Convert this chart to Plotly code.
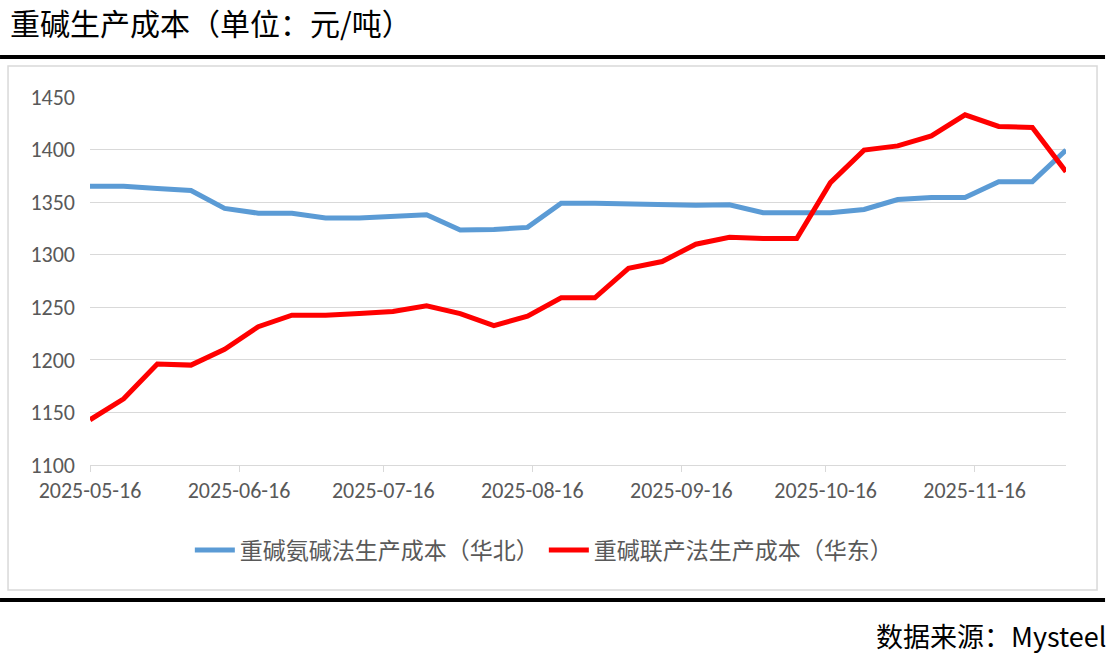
import plotly.graph_objects as go

dates = ["2025-05-16", "2025-05-23", "2025-05-30", "2025-06-06", "2025-06-13",
         "2025-06-20", "2025-06-27", "2025-07-04", "2025-07-11", "2025-07-18",
         "2025-07-25", "2025-08-01", "2025-08-08", "2025-08-15", "2025-08-22",
         "2025-08-29", "2025-09-05", "2025-09-12", "2025-09-19", "2025-09-26",
         "2025-10-03", "2025-10-10", "2025-10-17", "2025-10-24", "2025-10-31",
         "2025-11-07", "2025-11-14", "2025-11-21", "2025-11-28", "2025-12-05"]

north_ammonia = [1365, 1365, 1363, 1361, 1344, 1339.5, 1339.5, 1335, 1335, 1336,
                 1338, 1323.5, 1324, 1326, 1349, 1349, 1348, 1347, 1347, 1347.5,
                 1340, 1340, 1340, 1343, 1352.5, 1354.5, 1354.5, 1369.5, 1369.5, 1399.5]

east_joint = [1143, 1163, 1196, 1195, 1210, 1231.5, 1242.5, 1242.5, 1244, 1246,
              1251.5, 1244, 1232.5, 1241.5, 1259, 1259, 1287, 1293.5, 1310, 1316.5,
              1315.5, 1315.5, 1368.5, 1399.5, 1403.5, 1413, 1433, 1422, 1421, 1379]

tick_dates = ["2025-05-16", "2025-06-16", "2025-07-16", "2025-08-16",
              "2025-09-16", "2025-10-16", "2025-11-16"]

series_names = ["重碱氨碱法生产成本（华北）", "重碱联产法生产成本（华东）"]
title_text = "重碱生产成本（单位：元/吨）"
source_text = "数据来源：Mysteel"

CJK = "SimSun, 'Noto Sans CJK SC', sans-serif"
NUM = "Calibri, Carlito, 'Liberation Sans', Arial, sans-serif"

fig = go.Figure()
fig.add_trace(go.Scatter(x=dates, y=north_ammonia, mode="lines", name=series_names[0],
                         line=dict(color="#5B9BD5", width=5)))
fig.add_trace(go.Scatter(x=dates, y=east_joint, mode="lines", name=series_names[1],
                         line=dict(color="#FF0000", width=5)))

fig.update_layout(
    width=1112, height=660,
    margin=dict(l=90, r=46, t=97, b=195),
    paper_bgcolor="white", plot_bgcolor="white",
    showlegend=True,
    legend=dict(orientation="h", x=0.465, xanchor="center", y=-0.231, yanchor="middle",
                font=dict(family=CJK, size=23, color="#595959"),
                itemwidth=40, traceorder="normal"),
    xaxis=dict(type="date", range=[dates[0], dates[-1]],
               tickvals=tick_dates, ticktext=tick_dates,
               showgrid=False, showline=True, linecolor="#D9D9D9", linewidth=1,
               ticks="outside", ticklen=6, tickcolor="#D9D9D9",
               tickfont=dict(family=NUM, size=22, color="#595959"),
               zeroline=False),
    yaxis=dict(range=[1100, 1450], tickvals=[1100, 1150, 1200, 1250, 1300, 1350, 1400, 1450],
               showgrid=True, gridcolor="#D9D9D9", gridwidth=1,
               showline=False, zeroline=False, ticks="",
               ticklabelstandoff=14,
               tickfont=dict(family=NUM, size=22, color="#595959")),
)

# Decorative frame and rules
fig.add_shape(type="rect", xref="paper", yref="paper",
              x0=-0.084, x1=1.0318, y0=-0.3397, y1=1.0842,
              line=dict(color="#D9D9D9", width=1.5), layer="below")
fig.add_shape(type="line", xref="paper", yref="paper",
              x0=-0.0922, x1=1.04, y0=1.1087, y1=1.1087,
              line=dict(color="black", width=4))
fig.add_shape(type="line", xref="paper", yref="paper",
              x0=-0.0922, x1=1.04, y0=-0.3668, y1=-0.3668,
              line=dict(color="black", width=4))

fig.add_annotation(text=title_text, xref="paper", yref="paper",
                   x=-0.084, y=1.2038, xanchor="left", yanchor="middle",
                   showarrow=False, font=dict(family=CJK, size=30, color="black"))
fig.add_annotation(text=source_text, xref="paper", yref="paper",
                   x=1.043, y=-0.462, xanchor="right", yanchor="middle",
                   showarrow=False, font=dict(family=CJK, size=27, color="black"))

fig.write_html("out.html", config={"displayModeBar": False},
               post_script="document.body.style.margin='0';document.body.style.padding='0';")
